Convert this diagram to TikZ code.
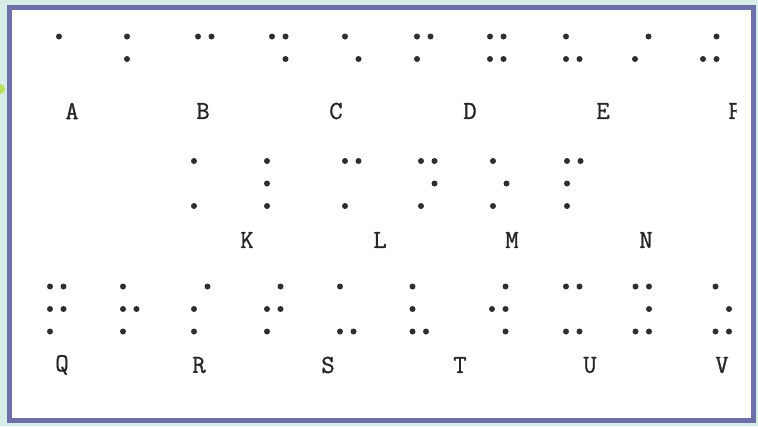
\documentclass[tikz,border=0pt]{standalone}
\usepackage{fontspec}
\setmonofont{Latin Modern Mono}[FakeBold=1.0]
\usepackage{xcolor}
\usepackage{tikz}

\definecolor{framecol}{HTML}{6E6FA8}
\definecolor{bgcol}{HTML}{D6ECE8}
\definecolor{dotcol}{HTML}{2E2E2E}
\tikzset{letter/.style={font=\ttfamily\fontsize{26}{26}\selectfont, text=black!85, inner sep=0pt}}

% one braille cell: #1 = x of left column, #2 = y of top row, #3 = raised dots (1-3 left, 4-6 right)
\newcommand{\braillecell}[3]{%
  \foreach \d in {#3} {%
    \pgfmathsetmacro{\cx}{#1+13.5*int((\d-1)/3)}%
    \pgfmathsetmacro{\cy}{#2+22.5*mod(\d-1,3)}%
    \fill[dotcol] (\cx,\cy) circle[radius=3pt];}}

\begin{document}
\begin{tikzpicture}[x=1pt, y=-1pt]
% page, background and frame (1 unit = 1 pixel, y downwards)
\useasboundingbox (0,0) rectangle (758,426);
\fill[bgcol] (0,0) rectangle (758,426);
\fill[yellow!60!green!70] (0,89) circle[radius=5pt];
\fill[white] (9,7) rectangle (753,420);
\draw[framecol, line width=5pt] (9,7) rectangle (753,420);
% first row: A to J, two dot rows
\braillecell{59}{36.5}{1}
\braillecell{127}{36.5}{1,2}
\braillecell{198}{36.5}{1,4}
\braillecell{272}{36.5}{1,4,5}
\braillecell{345}{36.5}{1,5}
\braillecell{417}{36.5}{1,2,4}
\braillecell{490}{36.5}{1,2,4,5}
\braillecell{566}{36.5}{1,2,5}
\braillecell{635}{36.5}{2,4}
\braillecell{703}{36.5}{2,4,5}
\foreach \l/\x in {A/72, B/203, C/336, D/470, E/603}
  \node[letter] (\l) at (\x,111) {\l};
\begin{scope}
  \clip (700,90) rectangle (736.5,130);
  \node[letter] (F) at (735,111) {F};
\end{scope}
% second row: K to P
\braillecell{194}{161}{1,3}
\braillecell{267}{161}{1,2,3}
\braillecell{345}{161}{1,3,4}
\braillecell{421}{161}{1,3,4,5}
\braillecell{493}{161}{1,3,5}
\braillecell{567}{161}{1,2,3,4}
\foreach \l/\x in {K/247, L/380, M/512, N/646}
  \node[letter] (\l) at (\x,240) {\l};
% third row: Q to Z
\braillecell{50}{286.5}{1,2,3,4,5}
\braillecell{123}{286.5}{1,2,3,5}
\braillecell{194}{286.5}{2,3,4}
\braillecell{267}{286.5}{2,3,4,5}
\braillecell{340}{286.5}{1,3,6}
\braillecell{412.5}{286.5}{1,2,3,6}
\braillecell{492}{286.5}{2,4,5,6}
\braillecell{566}{286.5}{1,3,4,6}
\braillecell{635.5}{286.5}{1,3,4,5,6}
\braillecell{715.5}{286.5}{1,3,5,6}
\foreach \l/\x in {Q/62, R/199, S/328, T/460, U/590, V/722}
  \node[letter] (\l) at (\x,365) {\l};
\end{tikzpicture}
\end{document}
